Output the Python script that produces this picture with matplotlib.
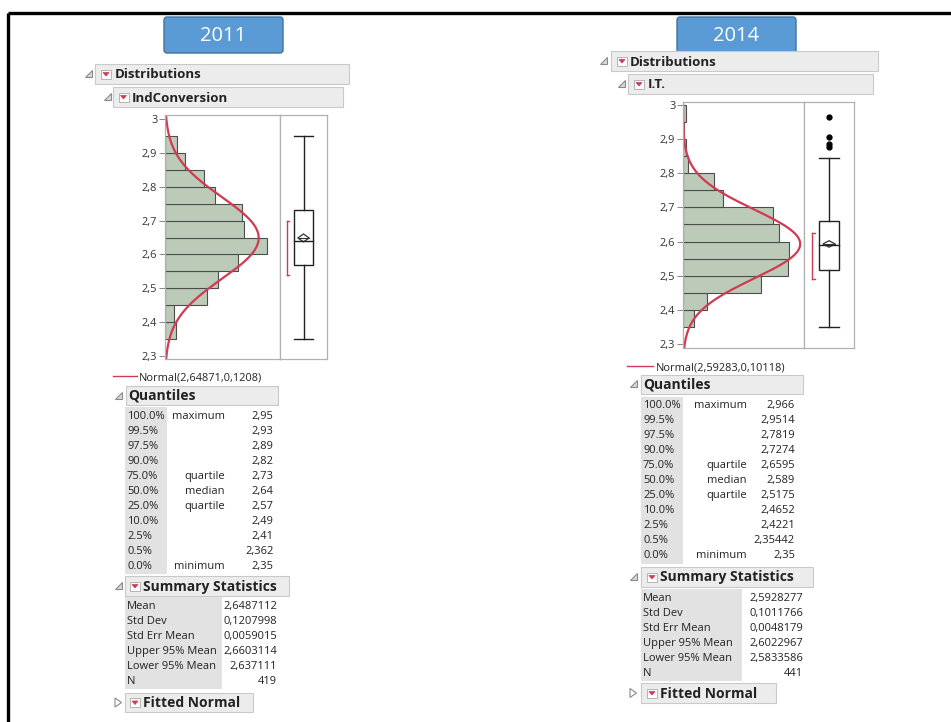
import numpy as np
import matplotlib
matplotlib.use("Agg")
import matplotlib.pyplot as plt
from matplotlib.patches import Rectangle, FancyBboxPatch, Polygon

plt.rcParams['font.family'] = ['Open Sans', 'DejaVu Sans']

W, H = 951, 722

# ---- data ----
years = ["2011", "2014"]
var_names = ["IndConversion", "I.T."]

bin_edges_2011 = [2.35, 2.40, 2.45, 2.50, 2.55, 2.60, 2.65, 2.70, 2.75, 2.80, 2.85, 2.90, 2.95]
counts_2011 = [8, 7, 31, 39, 54, 75, 58, 57, 37, 29, 15, 9]
bin_edges_2014 = [2.35, 2.40, 2.45, 2.50, 2.55, 2.60, 2.65, 2.70, 2.75, 2.80, 2.85, 2.90, 2.95, 3.00]
counts_2014 = [8, 18, 58, 78, 79, 71, 67, 30, 23, 4, 2, 1, 2]

mean_2011, sd_2011, n_2011 = 2.64871, 0.1208, 419
mean_2014, sd_2014, n_2014 = 2.59283, 0.10118, 441

# box plot: whisker low, q1, median, q3, whisker high
box_2011 = [2.35, 2.57, 2.64, 2.73, 2.95]
box_2014 = [2.35, 2.5175, 2.589, 2.6595, 2.845]
outliers_2014 = [2.966, 2.905, 2.885, 2.878]
ci_2011 = [2.637111, 2.6603114]
ci_2014 = [2.5833586, 2.6022967]
short_half_2011 = [2.54, 2.70]
short_half_2014 = [2.49, 2.625]

ytick_vals = [2.3, 2.4, 2.5, 2.6, 2.7, 2.8, 2.9, 3.0]
ytick_labels = ["2,3", "2,4", "2,5", "2,6", "2,7", "2,8", "2,9", "3"]

legend_2011 = "Normal(2,64871,0,1208)"
legend_2014 = "Normal(2,59283,0,10118)"

q_pct = ["100.0%", "99.5%", "97.5%", "90.0%", "75.0%", "50.0%", "25.0%", "10.0%", "2.5%", "0.5%", "0.0%"]
q_names = ["maximum", "", "", "", "quartile", "median", "quartile", "", "", "", "minimum"]
q_vals_2011 = ["2,95", "2,93", "2,89", "2,82", "2,73", "2,64", "2,57", "2,49", "2,41", "2,362", "2,35"]
q_vals_2014 = ["2,966", "2,9514", "2,7819", "2,7274", "2,6595", "2,589", "2,5175", "2,4652", "2,4221", "2,35442", "2,35"]

s_names = ["Mean", "Std Dev", "Std Err Mean", "Upper 95% Mean", "Lower 95% Mean", "N"]
s_vals_2011 = ["2,6487112", "0,1207998", "0,0059015", "2,6603114", "2,637111", "419"]
s_vals_2014 = ["2,5928277", "0,1011766", "0,0048179", "2,6022967", "2,5833586", "441"]

BAR = "#bccbb8"
BAR_EDGE = "#4d4d4d"
RED = "#d13a52"
HDR = "#ececec"
HDR_EDGE = "#c9c9c9"
LBL = "#e2e2e2"
TXT = "#222222"

fig = plt.figure(figsize=(W / 100, H / 100), dpi=100)
ax0 = fig.add_axes([0, 0, 1, 1])
ax0.set_xlim(0, W)
ax0.set_ylim(H, 0)
ax0.axis("off")

# slide frame
ax0.plot([8, W], [13, 13], color="black", lw=2.4, solid_capstyle="butt")
ax0.plot([8, 8], [13, H], color="black", lw=2.4, solid_capstyle="butt")


def px_axes(x0, y0, x1, y1):
    return fig.add_axes([x0 / W, 1 - y1 / H, (x1 - x0) / W, (y1 - y0) / H])


def disclosure(x, y, closed=False):
    if closed:
        pts = [(x - 3, y - 4.5), (x - 3, y + 4.5), (x + 3.5, y)]
        ax0.add_patch(Polygon(pts, closed=True, fc="white", ec="#8a8a8a", lw=0.8))
    else:
        pts = [(x + 3.5, y - 4), (x + 3.5, y + 3), (x - 3.5, y + 3)]
        ax0.add_patch(Polygon(pts, closed=True, fc="#d8d8d8", ec="#8a8a8a", lw=0.8))


def dropdown(x, y):
    ax0.add_patch(Rectangle((x, y), 10, 9, fc="white", ec="#b5b5b5", lw=0.7))
    ax0.add_patch(Polygon([(x + 2, y + 3), (x + 8, y + 3), (x + 5, y + 6.5)],
                          closed=True, fc=RED, ec=RED, lw=0.5))


def header(x0, y0, x1, y1, text, tri_x, tx, icon_x=None, closed=False, size=9.5):
    ax0.add_patch(Rectangle((x0, y0), x1 - x0, y1 - y0, fc=HDR, ec=HDR_EDGE, lw=0.8))
    yc = (y0 + y1) / 2
    disclosure(tri_x, yc, closed)
    if icon_x is not None:
        dropdown(icon_x, yc - 4.5)
    ax0.text(tx, yc + 4.5, text, fontsize=size, fontweight="bold", color=TXT,
             ha="left", va="baseline")


def year_box(x0, y0, x1, y1, text):
    ax0.add_patch(FancyBboxPatch((x0 + 3, y0 + 3), x1 - x0 - 6, y1 - y0 - 6,
                                 boxstyle="round,pad=3", fc="#5b9bd5", ec="#41719c", lw=1.0))
    ax0.text((x0 + x1) / 2, (y0 + y1) / 2 + 1, text, fontsize=14.5, color="white",
             ha="center", va="center")


def dist_panel(hx0, hy0, hx1, hy1, bx1, ylim, xmax, edges, counts, mu, sd, n,
               box, ci, short_half, box_lr, brk_x, outliers):
    ah = px_axes(hx0, hy0, hx1, hy1)
    ab = px_axes(hx1, hy0, bx1, hy1)
    lefts = np.array(edges[:-1])
    widths = np.diff(edges)
    ah.barh(lefts, counts, height=widths, align="edge", color=BAR,
            edgecolor=BAR_EDGE, linewidth=0.8)
    yy = np.linspace(ylim[0], ylim[1], 300)
    dens = n * 0.05 * np.exp(-0.5 * ((yy - mu) / sd) ** 2) / (sd * np.sqrt(2 * np.pi))
    ah.plot(dens, yy, color=RED, lw=1.6)
    ah.set_xlim(0, xmax)
    ah.set_ylim(*ylim)
    ah.set_xticks([])
    ah.set_yticks(ytick_vals)
    ah.set_yticklabels(ytick_labels, fontsize=7.9, color="#333333")
    ah.tick_params(axis="y", length=4, width=0.7, color="#888888", pad=1.5)
    for s in ah.spines.values():
        s.set_color("#b0b0b0")
        s.set_linewidth(0.9)

    # box plot
    lo, q1, med, q3, hi = box
    l, r = box_lr
    c = (l + r) / 2
    ab.add_patch(Rectangle((l, q1), r - l, q3 - q1, fc="white", ec="#222222", lw=1.0))
    ab.plot([l, r], [med, med], color="#222222", lw=1.0)
    ab.plot([c, c], [q3, hi], color="#222222", lw=1.0)
    ab.plot([c, c], [lo, q1], color="#222222", lw=1.0)
    ab.plot([l, r], [hi, hi], color="#222222", lw=1.0)
    ab.plot([l, r], [lo, lo], color="#222222", lw=1.0)
    dw = (r - l) * 0.3
    mean_pt = (ci[0] + ci[1]) / 2
    ab.add_patch(Polygon([(c - dw, mean_pt), (c, ci[1]), (c + dw, mean_pt), (c, ci[0])],
                         closed=True, fc="white", ec="#333333", lw=0.9))
    ab.plot([c - dw, c + dw], [mean_pt, mean_pt], color="#333333", lw=0.8)
    ab.plot([brk_x, brk_x], short_half, color=RED, lw=1.0)
    ab.plot([brk_x, brk_x + 0.06], [short_half[0]] * 2, color=RED, lw=1.0)
    ab.plot([brk_x, brk_x + 0.06], [short_half[1]] * 2, color=RED, lw=1.0)
    if outliers:
        ab.plot([c] * len(outliers), outliers, "o", color="black", ms=3.5)
    ab.set_xlim(0, 1)
    ab.set_ylim(*ylim)
    ab.set_xticks([])
    ab.set_yticks([])
    for s in ab.spines.values():
        s.set_color("#b0b0b0")
        s.set_linewidth(0.9)


def quant_table(lx, vx, mx, y0, gx1, top, names, vals, size=8.0):
    ax0.add_patch(Rectangle((lx - 2, top), gx1 - lx + 2, 15 * len(names) + 2,
                            fc=LBL, ec="none"))
    for i, name in enumerate(names):
        y = y0 + 15 * i + 4
        ax0.text(lx, y, name, fontsize=size, color=TXT, ha="left", va="baseline")
        if mx is not None and q_names[i]:
            ax0.text(mx, y, q_names[i], fontsize=size, color=TXT, ha="right", va="baseline")
        ax0.text(vx, y, vals[i], fontsize=size, color=TXT, ha="right", va="baseline")


# ---------- 2011 ----------
year_box(164, 17, 283, 53, years[0])
header(95, 64, 349, 84, "Distributions", 88, 115, icon_x=101, size=9.5)
header(113, 87, 343, 107, var_names[0], 107, 132, icon_x=118.5, size=9.5)
dist_panel(165, 115, 280, 359, 327, (2.291, 3.012), 84.9, bin_edges_2011, counts_2011,
           mean_2011, sd_2011, n_2011, box_2011, ci_2011, short_half_2011,
           (0.30, 0.70), 0.14, [])
ax0.plot([113, 137], [376, 376], color=RED, lw=1.0)
ax0.text(139, 380, legend_2011, fontsize=7.9, color=TXT, ha="left", va="baseline")
header(126, 386, 278, 405, "Quantiles", 118, 128, size=10)
quant_table(127, 273.5, 225, 415, 167, 407, q_pct, q_vals_2011)
header(125, 576, 289, 596, "Summary Statistics", 118, 143, icon_x=130, size=10)
quant_table(127, 277, None, 605, 221.5, 597, s_names, s_vals_2011)
header(125, 693, 253, 712, "Fitted Normal", 118, 143, icon_x=130, closed=True, size=10)

# ---------- 2014 ----------
year_box(677, 17, 796, 53, years[1])
header(611, 51, 878, 71, "Distributions", 603, 629.5, icon_x=617, size=9.5)
header(628, 74, 873, 94, var_names[1], 621, 647.5, icon_x=634, size=9.5)
dist_panel(683, 102.3, 804.3, 348.3, 854.3, (2.287, 3.008), 90.0, bin_edges_2014,
           counts_2014, mean_2014, sd_2014, n_2014, box_2014, ci_2014, short_half_2014,
           (0.29, 0.70), 0.15, outliers_2014)
ax0.plot([627, 653], [366, 366], color=RED, lw=1.0)
ax0.text(656, 370, legend_2014, fontsize=7.9, color=TXT, ha="left", va="baseline")
header(641, 375, 803, 393.5, "Quantiles", 633, 643, size=10)
quant_table(643, 795, 747, 404.3, 683.3, 396.5, q_pct, q_vals_2014)
header(641, 567, 813, 587, "Summary Statistics", 633, 660, icon_x=647, size=10)
quant_table(643, 803, None, 596.7, 741.7, 589, s_names, s_vals_2014)
header(641, 683, 776, 703, "Fitted Normal", 633, 660, icon_x=647, closed=True, size=10)

fig.savefig("out.png", dpi=100)
